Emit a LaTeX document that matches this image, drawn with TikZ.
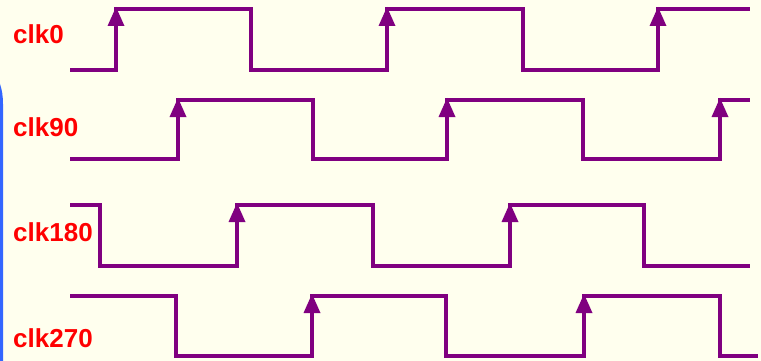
\documentclass[tikz,border=0pt]{standalone}
\usepackage{fontspec}
\setmainfont{Liberation Sans}
\begin{document}
\begin{tikzpicture}[x=1pt,y=-1pt,
  wave/.style={draw=wavepurple,line width=4pt,line join=miter},
  tip/.style={fill=wavepurple,draw=none},
  lbl/.style={anchor=base west,inner sep=0pt,text=red,font=\fontsize{26}{31}\selectfont\bfseries}]
\definecolor{wavepurple}{HTML}{800080}
\definecolor{bgcol}{HTML}{FFFFEE}
\definecolor{edgeblue}{HTML}{3366FF}
\useasboundingbox (0,0) rectangle (761,361);
\fill[bgcol] (0,0) rectangle (761,361);
% blue edge of neighbouring panel
\fill[edgeblue] (0,84) .. controls (2,90) and (3,96) .. (3,104) -- (3,361) -- (0,361) -- cycle;
% labels
\node[lbl] (l0) at (13,44) {clk0};
\node[lbl] (l90) at (13,136) {clk90};
\node[lbl] (l180) at (13,241) {clk180};
\node[lbl] (l270) at (13,347) {clk270};
% clk0
\draw[wave] (70,70)--(116,70)--(116,9)--(251,9)--(251,70)--(387,70)--(387,9)--(523,9)--(523,70)--(658,70)--(658,9)--(750,9);
% clk90
\draw[wave] (70,159)--(178,159)--(178,100)--(313,100)--(313,159)--(447,159)--(447,100)--(583,100)--(583,159)--(720,159)--(720,100)--(750,100);
% clk180
\draw[wave] (70,205)--(100,205)--(100,266)--(237,266)--(237,205)--(373,205)--(373,266)--(510,266)--(510,205)--(644,205)--(644,266)--(750,266);
% clk270
\draw[wave] (70,296)--(176,296)--(176,356)--(312,356)--(312,296)--(446,296)--(446,356)--(584,356)--(584,296)--(720,296)--(720,356)--(758,356);
% arrowheads on rising edges
\foreach \x/\y in {116/9,387/9,658/9,178/100,447/100,720/100,237/205,510/205,312/296,584/296}{
  \fill[tip] (\x,\y-2) -- (\x+8.5,\y+17) -- (\x-8.5,\y+17) -- cycle;
}
\end{tikzpicture}
\end{document}
